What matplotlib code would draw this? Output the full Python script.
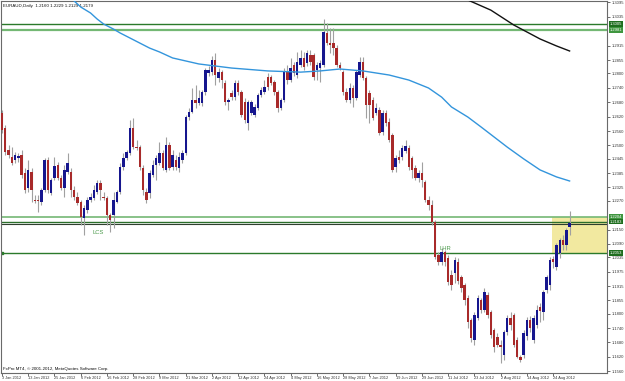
import numpy as np
import pandas as pd
import matplotlib
matplotlib.use('Agg')
import matplotlib.pyplot as plt
import matplotlib.transforms as mtrans
from matplotlib.patches import Rectangle

plt.rcParams['font.family'] = ['Liberation Sans', 'DejaVu Sans']

# EURAUD daily candles, 3 Jan 2012 .. 31 Aug 2012
opens = [
    1.2635, 1.2573, 1.2481, 1.2452, 1.2439, 1.2448, 1.2460, 1.2385, 1.2323, 1.2389,
    1.2273, 1.2273, 1.2265, 1.2315, 1.2439, 1.2302, 1.2365, 1.2419, 1.2365, 1.2323,
    1.2389, 1.2389, 1.2315, 1.2285, 1.2265, 1.2198, 1.2231, 1.2273, 1.2281, 1.2306,
    1.2344, 1.2285, 1.2281, 1.2211, 1.2211, 1.2265, 1.2306, 1.2410, 1.2448, 1.2469,
    1.2573, 1.2493, 1.2493, 1.2406, 1.2306, 1.2302, 1.2377, 1.2419, 1.2427, 1.2469,
    1.2398, 1.2502, 1.2410, 1.2439, 1.2406, 1.2439, 1.2469, 1.2618, 1.2639, 1.2689,
    1.2676, 1.2676, 1.2722, 1.2801, 1.2805, 1.2855, 1.2781, 1.2805, 1.2760, 1.2681,
    1.2718, 1.2701, 1.2760, 1.2722, 1.2681, 1.2593, 1.2635, 1.2627, 1.2656, 1.2710,
    1.2722, 1.2785, 1.2785, 1.2764, 1.2722, 1.2656, 1.2689, 1.2805, 1.2772, 1.2835,
    1.2793, 1.2835, 1.2864, 1.2843, 1.2876, 1.2876, 1.2814, 1.2822, 1.2835, 1.2968,
    1.2926, 1.2926, 1.2905, 1.2835, 1.2805, 1.2722, 1.2689, 1.2739, 1.2697, 1.2793,
    1.2847, 1.2781, 1.2718, 1.2689, 1.2635, 1.2647, 1.2556, 1.2635, 1.2597, 1.2543,
    1.2410, 1.2452, 1.2452, 1.2477, 1.2489, 1.2448, 1.2406, 1.2365, 1.2385, 1.2348,
    1.2273, 1.2252, 1.2181, 1.2044, 1.2015, 1.2057, 1.2032, 1.1961, 1.1969, 1.2015,
    1.1953, 1.1919, 1.1865, 1.1774, 1.1691, 1.1782, 1.1857, 1.1815, 1.1878, 1.1807,
    1.1732, 1.1703, 1.1670, 1.1628, 1.1724, 1.1782, 1.1795, 1.1691, 1.1620, 1.1628,
    1.1707, 1.1774, 1.1691, 1.1753, 1.1828, 1.1807, 1.1899, 1.1919, 1.2028, 1.1994,
    1.2053, 1.2107, 1.2086, 1.2160,
]
highs = [
    1.2647, 1.2585, 1.2502, 1.2493, 1.2473, 1.2469, 1.2481, 1.2406, 1.2439, 1.2406,
    1.2294, 1.2294, 1.2323, 1.2448, 1.2452, 1.2365, 1.2452, 1.2431, 1.2377, 1.2419,
    1.2469, 1.2406, 1.2331, 1.2306, 1.2273, 1.2252, 1.2285, 1.2302, 1.2335, 1.2356,
    1.2356, 1.2306, 1.2290, 1.2219, 1.2306, 1.2315, 1.2427, 1.2469, 1.2481, 1.2606,
    1.2614, 1.2523, 1.2502, 1.2419, 1.2323, 1.2398, 1.2439, 1.2460, 1.2514, 1.2481,
    1.2535, 1.2514, 1.2481, 1.2460, 1.2473, 1.2481, 1.2627, 1.2656, 1.2739, 1.2751,
    1.2731, 1.2731, 1.2822, 1.2830, 1.2872, 1.2885, 1.2822, 1.2814, 1.2772, 1.2697,
    1.2731, 1.2772, 1.2772, 1.2731, 1.2697, 1.2689, 1.2689, 1.2672, 1.2718, 1.2743,
    1.2772, 1.2801, 1.2793, 1.2772, 1.2731, 1.2697, 1.2822, 1.2835, 1.2864, 1.2847,
    1.2889, 1.2897, 1.2889, 1.2897, 1.2897, 1.2885, 1.2847, 1.2855, 1.3026, 1.3009,
    1.2989, 1.2989, 1.2918, 1.2847, 1.2814, 1.2739, 1.2760, 1.2751, 1.2814, 1.2868,
    1.2868, 1.2789, 1.2731, 1.2701, 1.2676, 1.2660, 1.2647, 1.2647, 1.2614, 1.2552,
    1.2460, 1.2481, 1.2502, 1.2523, 1.2502, 1.2456, 1.2419, 1.2398, 1.2431, 1.2356,
    1.2290, 1.2273, 1.2190, 1.2057, 1.2073, 1.2065, 1.2044, 1.1982, 1.2036, 1.2032,
    1.1961, 1.1928, 1.1878, 1.1782, 1.1807, 1.1878, 1.1865, 1.1907, 1.1890, 1.1815,
    1.1741, 1.1720, 1.1691, 1.1732, 1.1795, 1.1807, 1.1803, 1.1703, 1.1628, 1.1732,
    1.1786, 1.1790, 1.1795, 1.1836, 1.1845, 1.1899, 1.1961, 1.2036, 1.2040, 1.2094,
    1.2115, 1.2127, 1.2157, 1.2229,
]
lows = [
    1.2552, 1.2460, 1.2448, 1.2419, 1.2427, 1.2431, 1.2365, 1.2302, 1.2306, 1.2265,
    1.2261, 1.2223, 1.2252, 1.2306, 1.2302, 1.2294, 1.2356, 1.2356, 1.2315, 1.2285,
    1.2381, 1.2285, 1.2273, 1.2252, 1.2169, 1.2127, 1.2219, 1.2265, 1.2273, 1.2298,
    1.2273, 1.2273, 1.2169, 1.2140, 1.2157, 1.2261, 1.2298, 1.2398, 1.2439, 1.2460,
    1.2485, 1.2481, 1.2398, 1.2294, 1.2261, 1.2281, 1.2369, 1.2356, 1.2419, 1.2398,
    1.2389, 1.2398, 1.2398, 1.2398, 1.2389, 1.2427, 1.2460, 1.2606, 1.2635, 1.2656,
    1.2668, 1.2664, 1.2710, 1.2789, 1.2793, 1.2751, 1.2764, 1.2739, 1.2668, 1.2647,
    1.2689, 1.2689, 1.2710, 1.2618, 1.2593, 1.2564, 1.2627, 1.2618, 1.2647, 1.2701,
    1.2714, 1.2731, 1.2751, 1.2710, 1.2639, 1.2647, 1.2681, 1.2756, 1.2764, 1.2789,
    1.2781, 1.2826, 1.2814, 1.2830, 1.2835, 1.2772, 1.2772, 1.2764, 1.2826, 1.2918,
    1.2885, 1.2876, 1.2826, 1.2814, 1.2710, 1.2681, 1.2676, 1.2660, 1.2689, 1.2785,
    1.2772, 1.2614, 1.2593, 1.2606, 1.2627, 1.2543, 1.2543, 1.2581, 1.2514, 1.2389,
    1.2389, 1.2427, 1.2439, 1.2469, 1.2398, 1.2365, 1.2356, 1.2348, 1.2327, 1.2265,
    1.2231, 1.2169, 1.2028, 1.2003, 1.2003, 1.1998, 1.1919, 1.1899, 1.1928, 1.1924,
    1.1890, 1.1836, 1.1741, 1.1682, 1.1670, 1.1774, 1.1803, 1.1807, 1.1782, 1.1699,
    1.1641, 1.1662, 1.1595, 1.1607, 1.1711, 1.1732, 1.1662, 1.1616, 1.1599, 1.1616,
    1.1691, 1.1724, 1.1678, 1.1741, 1.1765, 1.1774, 1.1886, 1.1899, 1.1990, 1.1982,
    1.2032, 1.2065, 1.2065, 1.2129,
]
closes = [
    1.2564, 1.2473, 1.2460, 1.2427, 1.2460, 1.2456, 1.2377, 1.2315, 1.2398, 1.2315,
    1.2269, 1.2269, 1.2315, 1.2439, 1.2315, 1.2356, 1.2414, 1.2365, 1.2323, 1.2398,
    1.2427, 1.2315, 1.2285, 1.2261, 1.2202, 1.2240, 1.2273, 1.2285, 1.2315, 1.2344,
    1.2315, 1.2281, 1.2211, 1.2190, 1.2273, 1.2306, 1.2410, 1.2448, 1.2473, 1.2573,
    1.2493, 1.2489, 1.2410, 1.2315, 1.2273, 1.2385, 1.2419, 1.2448, 1.2469, 1.2406,
    1.2502, 1.2406, 1.2460, 1.2410, 1.2452, 1.2469, 1.2618, 1.2639, 1.2689, 1.2676,
    1.2697, 1.2722, 1.2814, 1.2814, 1.2855, 1.2793, 1.2805, 1.2772, 1.2681, 1.2689,
    1.2701, 1.2760, 1.2722, 1.2627, 1.2606, 1.2681, 1.2681, 1.2660, 1.2710, 1.2731,
    1.2743, 1.2743, 1.2760, 1.2722, 1.2656, 1.2689, 1.2805, 1.2772, 1.2822, 1.2801,
    1.2847, 1.2864, 1.2826, 1.2885, 1.2847, 1.2785, 1.2835, 1.2843, 1.2972, 1.2926,
    1.2918, 1.2905, 1.2835, 1.2822, 1.2722, 1.2689, 1.2739, 1.2697, 1.2805, 1.2847,
    1.2781, 1.2668, 1.2668, 1.2614, 1.2656, 1.2552, 1.2635, 1.2593, 1.2523, 1.2398,
    1.2448, 1.2439, 1.2489, 1.2498, 1.2410, 1.2398, 1.2365, 1.2385, 1.2356, 1.2273,
    1.2252, 1.2181, 1.2036, 1.2015, 1.2057, 1.2015, 1.1932, 1.1919, 1.2023, 1.1936,
    1.1907, 1.1857, 1.1765, 1.1699, 1.1795, 1.1865, 1.1815, 1.1890, 1.1795, 1.1711,
    1.1662, 1.1670, 1.1662, 1.1724, 1.1782, 1.1753, 1.1670, 1.1620, 1.1607, 1.1720,
    1.1774, 1.1741, 1.1782, 1.1815, 1.1811, 1.1890, 1.1953, 1.2023, 1.2015, 1.2086,
    1.2107, 1.2086, 1.2148, 1.2179,
]

symbol = 'EURAUD,Daily'
dates = pd.bdate_range('2012-01-03', periods=len(closes))

# moving averages (bar index, value)
ma_blue_bars = [20, 22, 24, 27, 29, 31, 34, 36, 39, 42, 45, 48, 52, 60, 70, 81, 91, 97, 103,
                110, 118, 124, 130, 134, 137, 142, 146, 150, 154, 159, 164, 169, 173]
ma_blue = [1.3126, 1.3101, 1.3076, 1.3051, 1.3026, 1.3005, 1.2984, 1.2968, 1.2947, 1.2926,
           1.2905, 1.2889, 1.2864, 1.2839, 1.2822, 1.2810, 1.2805, 1.2810, 1.2818,
           1.2810, 1.2793, 1.2772, 1.2739, 1.2701, 1.2660, 1.2618, 1.2577, 1.2535, 1.2493,
           1.2444, 1.2398, 1.2369, 1.2352]
ma_black_bars = [138, 142, 149, 156, 164, 169, 173]
ma_black = [1.3142, 1.3105, 1.3063, 1.3001, 1.2943, 1.2914, 1.2893]

# horizontal levels
levels = [1.3005, 1.2981, 1.2204, 1.2183, 1.2053]
extra_line = 1.2175
zone_bar = 168
zone_low, zone_high = 1.2053, 1.2204

price_ticks = [1.3095, 1.3035, 1.2915, 1.2855, 1.2800, 1.2740, 1.2680, 1.2620, 1.2560, 1.2500,
               1.2445, 1.2385, 1.2325, 1.2270, 1.2150, 1.2090, 1.2035, 1.1975, 1.1915, 1.1855,
               1.1800, 1.1740, 1.1680, 1.1620, 1.1560]

notes = ['LCS', 'LHR']
note_bars = [27.5, 133.5]
note_prices = [1.2136, 1.2073]

level_colors = ['#2b7a2b', '#74b874', '#74b874', '#2b6e2b', '#2b7a2b']
level_widths = [1.0, 1.6, 1.2, 1.0, 1.0]
box_colors = ['#1f6e1f', '#3f963f', '#3f963f', '#1f6e1f', '#1f6e1f']

fig = plt.figure(figsize=(6.25, 3.81), dpi=100)
ax = fig.add_axes([1 / 625, 8 / 381, 606 / 625, 372 / 381])

x = np.arange(len(closes))
o, h, l, c = (np.array(v) for v in (opens, highs, lows, closes))
up = c >= o
lo = np.minimum(o, c)
hgt = np.maximum(np.abs(c - o), 0.0003)

ax.add_patch(Rectangle((zone_bar - 0.3, zone_low), 100, zone_high - zone_low,
                       fc='#f2e9a0', ec='none', zorder=0))

for p, col, lw in zip(levels, level_colors, level_widths):
    ax.axhline(p, color=col, lw=lw, zorder=1)
ax.axhline(extra_line, color='#2f3f2f', lw=0.8, zorder=1)
ax.plot([0], [levels[-1]], marker='s', ms=2, color=level_colors[-1], zorder=2)

ax.vlines(x, l, h, color='#a0a0a0', lw=0.8, zorder=2)
ax.bar(x[up], hgt[up], bottom=lo[up], width=0.74, color='#16168e', lw=0, zorder=3)
ax.bar(x[~up], hgt[~up], bottom=lo[~up], width=0.74, color='#a82a2a', lw=0, zorder=3)

ax.plot(ma_blue_bars, ma_blue, color='#3395dc', lw=1.0, zorder=4)
ax.plot(ma_black_bars, ma_black, color='#111111', lw=1.0, zorder=4)

for t, bx, py in zip(notes, note_bars, note_prices):
    ax.text(bx, py, t, color='#4a9a4a', fontsize=4.2, va='center', ha='left', zorder=5)

ax.set_xlim(-0.3, 184.4)
ax.set_ylim(1.1553, 1.3101)

ax.yaxis.tick_right()
ax.set_yticks(price_ticks)
ax.set_yticklabels([f'{p:.4f}' for p in price_ticks])
ax.tick_params(axis='y', length=2, width=0.5, pad=1.5, labelsize=3.0, colors='#333333')

xt = list(range(0, len(closes), 8))
ax.set_xticks(xt)
ax.set_xticklabels([f'{dates[i].day} {dates[i].strftime("%b %Y")}' for i in xt], ha='left')
ax.tick_params(axis='x', length=2, width=0.5, pad=0.5, labelsize=2.8, colors='#333333')

for s in ax.spines.values():
    s.set_color('#6a6a6a')
    s.set_linewidth(0.8)

trans = mtrans.blended_transform_factory(ax.transAxes, ax.transData)
for p, bc in zip(levels, box_colors):
    ax.text(1.004, p, f'{p:.4f}', transform=trans, fontsize=3.0, color='white',
            va='center', ha='left', clip_on=False, zorder=6,
            bbox=dict(boxstyle='square,pad=0.2', fc=bc, ec='none'))

ax.text(0.004, 0.993, f'{symbol}  {opens[-1]:.4f} {highs[-1]:.4f} {lows[-1]:.4f} {closes[-1]:.4f}',
        transform=ax.transAxes, fontsize=3.2, va='top', ha='left', color='#111111')
ax.text(0.003, 0.006, 'FxPro MT4, © 2001-2012, MetaQuotes Software Corp.',
        transform=ax.transAxes, fontsize=3.2, va='bottom', ha='left', color='#111111')

fig.savefig('out.png', dpi=100)
